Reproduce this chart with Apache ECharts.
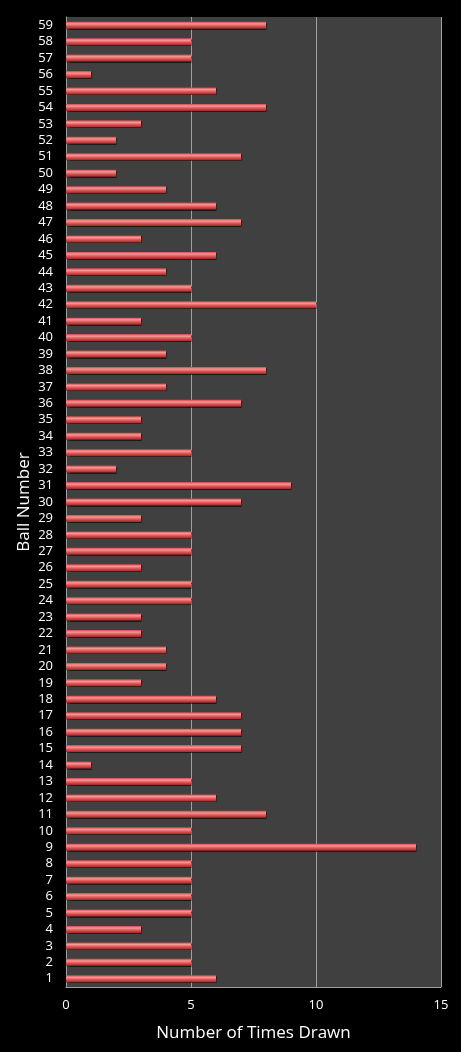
<!DOCTYPE html>
<html><head><meta charset="utf-8">
<script src="https://cdn.jsdelivr.net/npm/echarts@6/dist/echarts.min.js"></script>
<style>html,body{margin:0;padding:0;background:#000;}#c{width:461px;height:1052px;}</style>
</head><body><div id="c"></div>
<script>
const balls = Array.from({length:59},(_,i)=>String(i+1));
const timesDrawn = [6,5,5,3,5,5,5,5,14,5,8,6,5,1,7,7,7,6,3,4,4,3,3,5,5,3,5,5,3,7,9,2,5,3,3,7,4,8,4,5,3,10,5,4,6,3,7,6,4,2,7,2,3,8,6,1,5,5,8];
const xTicks = [0,5,10,15];
const chart = echarts.init(document.getElementById('c'));
chart.setOption({
  backgroundColor:'#000',
  animation:false,
  grid:{left:66,right:20,top:17,bottom:65,containLabel:false,backgroundColor:'#404040',show:true,borderWidth:0},
  xAxis:{type:'value',min:xTicks[0],max:xTicks[xTicks.length-1],interval:5,
    name:'Number of Times Drawn',nameLocation:'middle',nameGap:38,nameMoveOverlap:false,
    nameTextStyle:{color:'#fff',fontSize:17,fontFamily:'Open Sans'},
    axisLine:{show:true,lineStyle:{color:'#a0a0a0',width:1}},axisTick:{show:false},
    axisLabel:{color:'#fff',fontSize:13,fontFamily:'Open Sans',margin:12},
    splitLine:{show:true,lineStyle:{color:'#a0a0a0',width:1}}},
  yAxis:{type:'category',data:balls,
    name:'Ball Number',nameLocation:'middle',nameGap:33,nameRotate:90,nameMoveOverlap:false,
    nameTextStyle:{color:'#fff',fontSize:17,fontFamily:'Open Sans'},
    axisLine:{show:true,lineStyle:{color:'#a0a0a0'}},axisTick:{show:false},
    axisLabel:{color:'#fff',fontSize:13,fontFamily:'Open Sans',margin:13,interval:0}},
  series:[{type:'bar',data:timesDrawn,barWidth:7,
    itemStyle:{color:new echarts.graphic.LinearGradient(0,0,0,1,[
      {offset:0,color:'#d04848'},{offset:0.3,color:'#f89898'},{offset:0.55,color:'#e85e5e'},{offset:1,color:'#9a2828'}]),
      shadowColor:'rgba(0,0,0,0.6)',shadowOffsetX:1,shadowOffsetY:1,shadowBlur:1}}]
});
</script></body></html>
